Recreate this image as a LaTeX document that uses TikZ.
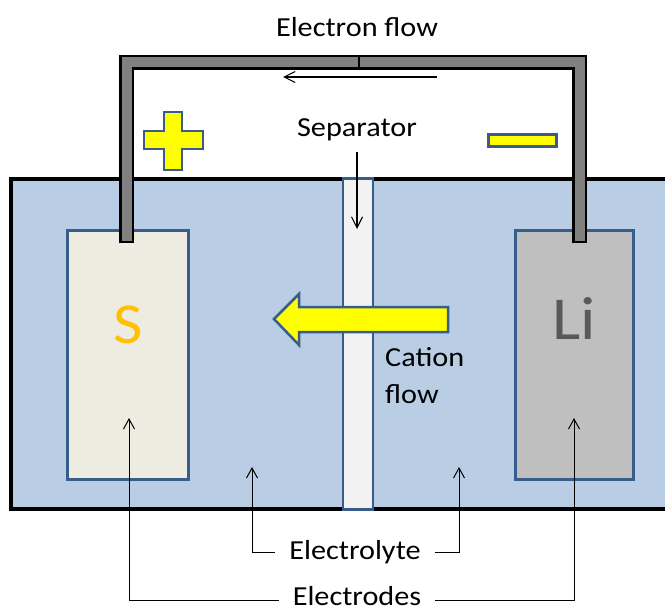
\documentclass[tikz,border=0pt]{standalone}
\usepackage{fontspec}
\setmainfont[FakeStretch=1.1]{Carlito}
\usetikzlibrary{arrows.meta}
\definecolor{tankc}{HTML}{B9CDE5}
\definecolor{sepc}{HTML}{F2F2F2}
\definecolor{sc}{HTML}{EEECE1}
\definecolor{lic}{HTML}{BFBFBF}
\definecolor{bord}{HTML}{385D8A}
\definecolor{wirec}{HTML}{808080}
\definecolor{stext}{HTML}{FFC000}
\definecolor{litext}{HTML}{595959}
\definecolor{yel}{HTML}{FFFF00}
\begin{document}
\begin{tikzpicture}[x=1pt,y=-1pt,
  thinarrow/.style={line width=1.1pt,-{Straight Barb[length=11pt,width=11pt]}},
  ann/.style={line width=1pt,-{Straight Barb[length=10pt,width=11pt]}},
  lbl/.style={font=\fontsize{27.5}{30}\selectfont, inner sep=0pt, anchor=base},
  electrode/.style={draw=bord, line width=3pt, inner sep=0pt},
  shapeY/.style={fill=yel, draw=bord, line width=2.5pt},
  ]
\useasboundingbox (0,0) rectangle (665,610);
\clip (0,0) rectangle (665,610);
% tank
\draw[fill=tankc, line width=3.2pt] (11,179) rectangle (690,509);
% separator
\node[draw=bord, fill=sepc, line width=2.5pt, inner sep=0pt, minimum width=30pt, minimum height=331pt] (sep) at (358,344) {};
% electrodes
\node[electrode, fill=sc, minimum width=121pt, minimum height=249pt] (elS) at (128,355) {};
\node[electrode, fill=lic, minimum width=118pt, minimum height=249pt] (elLi) at (574.5,355) {};
\node[anchor=base, inner sep=0pt, text=stext, font=\fontsize{58}{60}\selectfont] (Stxt) at (128,343) {S};
\node[anchor=base, inner sep=0pt, text=litext, font=\fontsize{61}{64}\selectfont] (Litxt) at (574,339) {Li};
% wires
\draw[line width=15pt, black, line join=miter] (126.5,243) -- (126.5,62.5) -- (359,62.5);
\draw[line width=15pt, black, line join=miter] (579.5,243) -- (579.5,62.5) -- (359,62.5);
\draw[line width=10pt, wirec, line join=miter] (126.5,240.5) -- (126.5,62.5) -- (357.8,62.5);
\draw[line width=10pt, wirec, line join=miter] (579.5,240.5) -- (579.5,62.5) -- (360.2,62.5);
% plus and minus
\draw[shapeY] (164,112) -- (182,112) -- (182,131) -- (203,131) -- (203,149) -- (182,149) -- (182,170) -- (164,170) -- (164,149) -- (144,149) -- (144,131) -- (164,131) -- cycle;
\draw[shapeY] (488.5,134.5) rectangle (556.5,146.5);
% cation arrow
\draw[shapeY, line join=miter] (274,319) -- (299,294) -- (299,307) -- (448,307) -- (448,332) -- (299,332) -- (299,345) -- cycle;
% labels
\node[lbl] (eflow) at (357,37) {Electron flow};
\coordinate (ef1) at (437,77);
\coordinate (ef2) at (283,77);
\draw[thinarrow] (ef1) -- (ef2);
\node[lbl] (sepl) at (357,137) {Separator};
\coordinate (sp1) at (357,152);
\coordinate (sp2) at (357,229);
\draw[thinarrow] (sp1) -- (sp2);
\node[lbl, anchor=base west] (cat1) at (385,366) {Cation};
\node[lbl, anchor=base west] (cat2) at (385,403) {flow};
\node[lbl, inner xsep=14pt] (elyte) at (355,559) {Electrolyte};
\node[lbl, inner xsep=14pt] (elde) at (357,605.5) {Electrodes};
\coordinate (ta1) at (252,467);
\coordinate (ta2) at (459,467);
\coordinate (tb1) at (129,418);
\coordinate (tb2) at (574,418);
\draw[ann] ([yshift=7pt]elyte.base west) -| (ta1);
\draw[ann] ([yshift=7pt]elyte.base east) -| (ta2);
\draw[ann] ([yshift=5pt]elde.base west) -| (tb1);
\draw[ann] ([yshift=5pt]elde.base east) -| (tb2);
\end{tikzpicture}
\end{document}
